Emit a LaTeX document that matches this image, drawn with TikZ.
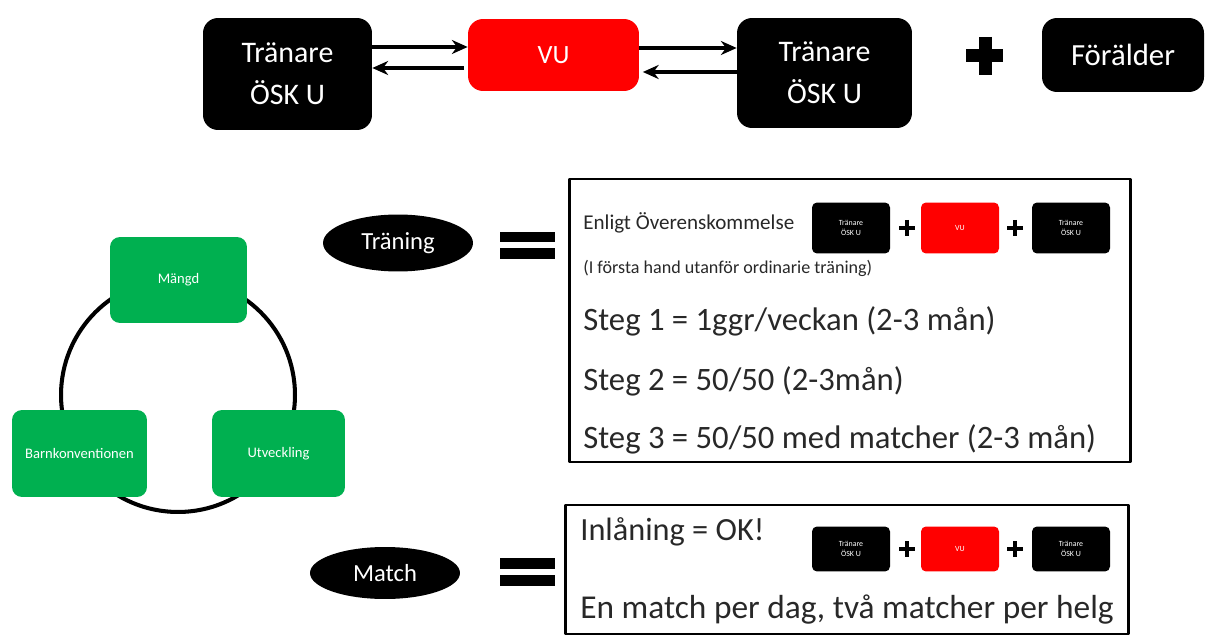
\documentclass[tikz,border=0pt]{standalone}
\usepackage{fontspec}
\setmainfont{Carlito}
\usepackage{xcolor}
\usetikzlibrary{arrows.meta,shapes.geometric,positioning}

\definecolor{vured}{RGB}{255,0,0}
\definecolor{cyclegreen}{RGB}{0,176,80}
\definecolor{paneltext}{RGB}{40,40,40}

\begin{document}
\begin{tikzpicture}[
			x=0.02cm,
			y=-0.02cm,
			>=Stealth,
			line join=round,
			trainerbox/.style={
				fill=black,
				text=white,
				rounded corners=0.3cm,
				align=center,
				inner sep=0pt,
				font=\fontsize{17}{24}\selectfont
			},
			vubox/.style={
				trainerbox,
				fill=vured
			},
			cyclebox/.style={
				fill=cyclegreen,
				text=white,
				rounded corners=0.2cm,
				inner sep=0pt,
				minimum width=2.7cm,
				minimum height=1.74cm,
				font=\fontsize{8.3}{10}\selectfont
			},
			tag/.style={
				ellipse,
				fill=black,
				text=white,
				inner sep=0pt,
				minimum width=3cm,
				font=\fontsize{14}{16}\selectfont
			},
			minibox/.style={
				fill=black,
				text=white,
				rounded corners=0.1cm,
				align=center,
				inner sep=0pt,
				minimum width=1.56cm,
				font=\fontsize{4.5}{5.5}\selectfont
			},
			panelline/.style={
				anchor=west,
				inner sep=0pt,
				text=paneltext
			},
			swap/.style={
				line width=2pt,
				-{Stealth[length=9pt,width=8pt]}
			},
			plusbar/.style={line width=#1}
			]
			
			\useasboundingbox (0,0) rectangle (1206,638);
			
			% top row
			\node[trainerbox,minimum width=3.38cm,minimum height=2.24cm] (trA) at (287.5,74) {Tränare\\ÖSK U};
			\node[vubox,minimum width=3.42cm,minimum height=1.44cm,font=\fontsize{15}{18}\selectfont] (vu) at (553.5,55) {VU};
			\node[trainerbox,minimum width=3.5cm,minimum height=2.2cm] (trB) at (824.5,73) {Tränare\\ÖSK U};
			\node[trainerbox,minimum width=3.24cm,minimum height=1.48cm,font=\fontsize{17.5}{21}\selectfont] (parent) at (1123,55) {Förälder};
			
			\draw[swap] (trA.east |- 0,47) -- (vu.west |- 0,47);
			\draw[swap] ([xshift=-2pt]vu.west |- 0,68) -- (trA.east |- 0,68);
			\draw[swap] (vu.east |- 0,48) -- (trB.west |- 0,48);
			\draw[swap] (trB.west |- 0,72) -- ([xshift=2pt]vu.east |- 0,72);
			
			% plus
			\draw[plusbar=7.4pt] (966,56) -- (1003,56) (985,37) -- (985,75);
			
			% cycle
			\draw[line width=2.3pt] (178,395) circle[radius=2.34cm];
			\node[cyclebox,minimum width=2.74cm,minimum height=1.72cm] (amount) at (178.5,280) {Mängd};
			\node[cyclebox] (rights) at (79.5,453.5) {Barnkonventionen};
			\node[cyclebox,minimum width=2.66cm] (growth) at (278.5,453.5) {Utveckling};
			
			% labels
			\node[tag,minimum height=1.14cm] (training) at (398,243) {Träning};
			\node[tag,minimum height=1.04cm] (match) at (385,573) {Match};
			
			\fill (500,232) rectangle (555,242);
			\fill (500,248) rectangle (555,259);
			\fill (500,558) rectangle (555,569);
			\fill (500,575) rectangle (555,586);
			
			% panels
			\draw[line width=1.7pt] (569,179) rectangle (1130,462);
			\draw[line width=1.7pt] (565,505) rectangle (1128,634);
			
			\node[panelline,font=\fontsize{12}{14}\selectfont] (deal) at (583,223) {Enligt Överenskommelse};
			\node[panelline,font=\fontsize{10.3}{12}\selectfont] (note) at (583,268) {(I första hand utanför ordinarie träning)};
			\node[panelline,font=\fontsize{18.6}{22}\selectfont] (stepone) at (583,321) {Steg 1 = 1ggr/veckan (2-3 mån)};
			\node[panelline,font=\fontsize{18.6}{22}\selectfont] (steptwo) at (583,381) {Steg 2 = 50/50 (2-3mån)};
			\node[panelline,font=\fontsize{18.6}{22}\selectfont] (stepthree) at (583,439) {Steg 3 = 50/50 med matcher (2-3 mån)};
			
			\node[panelline,font=\fontsize{18.4}{22}\selectfont] (loan) at (580,532) {Inlåning = OK!};
			\node[panelline,font=\fontsize{19}{22}\selectfont] (perday) at (580,610) {En match per dag, två matcher per helg};
			
			% small trios
			\foreach \row/\yc/\boxh in {t/228/1.02cm, m/549/0.9cm} {
				\node[minibox,minimum height=\boxh] (\row A) at (851,\yc) {Tränare\\ÖSK U};
				\node[minibox,fill=vured,minimum height=\boxh] (\row V) at (960,\yc) {VU};
				\node[minibox,minimum height=\boxh] (\row B) at (1071,\yc) {Tränare\\ÖSK U};
				\draw[plusbar=2.8pt] (899,\yc) -- (915,\yc) (907,\yc-8) -- (907,\yc+8);
				\draw[plusbar=2.8pt] (1007,\yc) -- (1023,\yc) (1015,\yc-8) -- (1015,\yc+8);
			}
			
		\end{tikzpicture}
\end{document}
